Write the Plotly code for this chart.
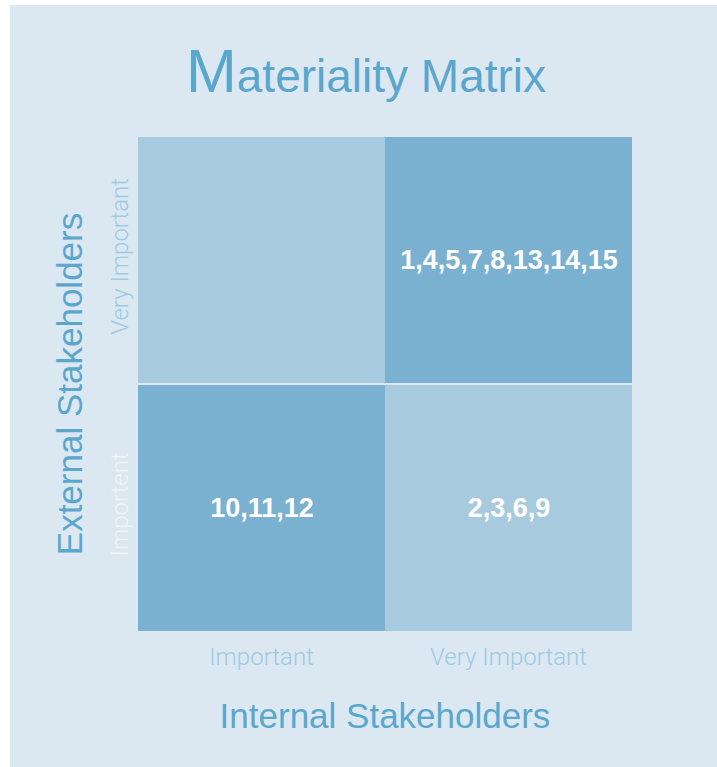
import plotly.graph_objects as go

# Data
x_labels = ["Important", "Very Important"]
y_labels = ["Importent", "Very Important"]
# rows: bottom (Importent), top (Very Important)
levels = [[2, 1], [1, 2]]
cell_text = [["10,11,12", "2,3,6,9"], ["", "1,4,5,7,8,13,14,15"]]

PANEL = "#dbe8f2"
LIGHT = "#a8cadf"
DARK = "#7ab1d1"
TITLE_C = "#5ba7cc"
TICK_C = "#9ecae2"
TICK_W = "#eef4f8"

fig = go.Figure(
    go.Heatmap(
        x=x_labels,
        y=y_labels,
        z=levels,
        text=cell_text,
        texttemplate="%{text}",
        textfont=dict(family="Liberation Sans", size=27, color="white", weight="bold"),
        colorscale=[[0, LIGHT], [1, DARK]],
        showscale=False,
        xgap=0,
        ygap=2,
        hoverinfo="skip",
    )
)

W, H = 717, 767
fig.update_layout(
    width=W,
    height=H,
    paper_bgcolor="white",
    plot_bgcolor=PANEL,
    margin=dict(l=138, r=85, t=136, b=135),
    title=dict(
        text="<span style='font-size:61px'>M</span>ateriality Matrix",
        font=dict(family="Liberation Sans", size=46, color=TITLE_C),
        xref="container", x=366 / W, xanchor="center",
        yref="container", y=1 - 76 / H, yanchor="middle",
    ),
    shapes=[
        dict(type="rect", xref="paper", yref="paper",
             x0=-128 / 494, x1=(717 - 138) / 494,
             y0=-135 / 496, y1=(496 + 131) / 496,
             fillcolor=PANEL, line=dict(width=0), layer="below"),
    ],
    xaxis=dict(
        showgrid=False, zeroline=False, showline=False, ticks="",
        tickfont=dict(family="Roboto", size=24, color=TICK_C, weight=300),
        ticklabelstandoff=8,
        title=dict(text="Internal Stakeholders",
                   font=dict(family="Liberation Sans", size=35, color=TITLE_C),
                   standoff=33),
        fixedrange=True,
    ),
    yaxis=dict(
        showgrid=False, zeroline=False, showline=False, ticks="",
        tickangle=-90,
        tickmode="array",
        tickvals=y_labels,
        ticktext=[
            f"<span style='color:{TICK_W}'>{y_labels[0]}</span>",
            y_labels[1],
        ],
        tickfont=dict(family="Roboto", size=24, color=TICK_C, weight=300),
        ticklabelstandoff=4,
        title=dict(text="External Stakeholders",
                   font=dict(family="Liberation Sans", size=35, color=TITLE_C),
                   standoff=12),
        fixedrange=True,
    ),
)

fig.write_html(
    "out.html",
    config={"displayModeBar": False},
    post_script="document.body.style.margin='0';document.body.style.overflow='hidden';",
)
